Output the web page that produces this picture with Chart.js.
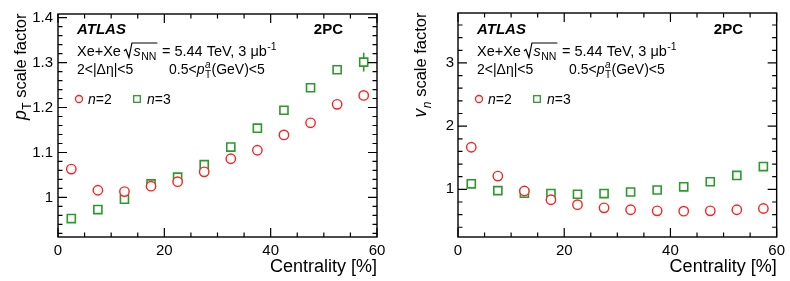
<!DOCTYPE html>
<html>
<head>
<meta charset="utf-8">
<script src="https://cdn.jsdelivr.net/npm/chart.js@4.4.0/dist/chart.umd.min.js"></script>
<style>
body { margin: 0; background: #fff; }
#wrap { position: relative; width: 790px; height: 281px; }
canvas { position: absolute; top: 0; }
</style>
</head>
<body>
<div id="wrap">
  <canvas id="ptChart" width="395" height="281" style="left:0"></canvas>
  <canvas id="vnChart" width="395" height="281" style="left:395px"></canvas>
</div>
<script>
// centrality bin centres [%]
var centrality = [2.5, 7.5, 12.5, 17.5, 22.5, 27.5, 32.5, 37.5, 42.5, 47.5, 52.5, 57.5];

// pT scale factor
var ptN2 = [1.063, 1.016, 1.013, 1.025, 1.035, 1.057, 1.086, 1.105, 1.139, 1.166, 1.207, 1.227];
var ptN3 = [0.953, 0.973, 0.996, 1.030, 1.045, 1.073, 1.112, 1.154, 1.194, 1.244, 1.284, 1.301];
var ptN3Err = [0, 0, 0, 0, 0, 0, 0, 0.002, 0.003, 0.005, 0.009, 0.021];

// vn scale factor
var vnN2 = [1.666, 1.21, 0.974, 0.835, 0.758, 0.707, 0.677, 0.66, 0.655, 0.66, 0.677, 0.697];
var vnN3 = [1.087, 0.98, 0.938, 0.933, 0.923, 0.933, 0.958, 0.99, 1.04, 1.12, 1.22, 1.36];

var xTicks = [0, 20, 40, 60];
var ptTicks = [1, 1.1, 1.2, 1.3, 1.4];
var vnTicks = [1, 2, 3];

var FONT = "'Liberation Sans', Arial, Helvetica, sans-serif";
var RED = '#ff1f1f';
var GREEN = '#2a9a2a';

function f(size, style) {
  return (style ? style + ' ' : '') + size + 'px ' + FONT;
}

function txt(ctx, s, x, y, font) {
  ctx.font = font;
  ctx.fillText(s, x, y);
  return x + ctx.measureText(s).width;
}

function tickRow(ctx, scale, area, step, majorEvery, horizontal) {
  var k0 = Math.ceil(scale.min / step - 1e-6);
  var k1 = Math.floor(scale.max / step + 1e-6);
  for (var k = k0; k <= k1; k++) {
    var v = k * step;
    var major = Math.abs(k % majorEvery) === 0;
    var len = major ? 9 : 4.5;
    var p = scale.getPixelForValue(v);
    ctx.beginPath();
    if (horizontal) {
      ctx.moveTo(p, area.bottom); ctx.lineTo(p, area.bottom - len);
      ctx.moveTo(p, area.top); ctx.lineTo(p, area.top + len);
    } else {
      ctx.moveTo(area.left, p); ctx.lineTo(area.left + len, p);
      ctx.moveTo(area.right, p); ctx.lineTo(area.right - len, p);
    }
    ctx.stroke();
  }
}

var framePlugin = {
  id: 'frame',
  beforeDatasetsDraw: function(chart) {
    var ctx = chart.ctx;
    var ys = chart.scales.y, xs = chart.scales.x;
    ctx.save();
    chart.data.datasets.forEach(function(ds) {
      if (!ds.errors) return;
      ctx.strokeStyle = ds.borderColor;
      ctx.lineWidth = 1.6;
      ds.data.forEach(function(pt, i) {
        var e = ds.errors[i];
        if (!e) return;
        var px = xs.getPixelForValue(pt.x);
        ctx.beginPath();
        ctx.moveTo(px, ys.getPixelForValue(pt.y - e));
        ctx.lineTo(px, ys.getPixelForValue(pt.y + e));
        ctx.stroke();
      });
    });
    ctx.restore();
  },
  afterDraw: function(chart, args, o) {
    var ctx = chart.ctx;
    var a = chart.chartArea;
    var L = a.left, R = a.right;
    ctx.save();
    // frame and inward ticks
    ctx.strokeStyle = '#000';
    ctx.lineWidth = 1.4;
    ctx.strokeRect(a.left, a.top, a.right - a.left, a.bottom - a.top);
    ctx.lineWidth = 1.2;
    tickRow(ctx, chart.scales.x, a, 5, 4, true);
    tickRow(ctx, chart.scales.y, a, o.yMinor, o.yMajorEvery, false);

    ctx.fillStyle = '#000';
    ctx.textBaseline = 'alphabetic';
    ctx.textAlign = 'left';

    // x axis title
    ctx.font = f(18);
    var w = ctx.measureText('Centrality [%]').width;
    txt(ctx, 'Centrality [%]', R - w, 272, f(18));

    // y axis title (rotated)
    ctx.save();
    ctx.translate(o.yTitleX, a.top - 2);
    ctx.rotate(-Math.PI / 2);
    var fs = 16.5;
    ctx.font = f(fs + 1, 'italic');
    var w1 = ctx.measureText(o.yTitleMain).width;
    ctx.font = f(12);
    var w2 = ctx.measureText(o.yTitleSub).width;
    ctx.font = f(fs);
    var w3 = ctx.measureText(' scale factor').width;
    var x0 = -(w1 + w2 + w3) - 2;
    var x1 = txt(ctx, o.yTitleMain, x0, 0, f(fs + 1, 'italic'));
    var x2 = txt(ctx, o.yTitleSub, x1 + 0.5, 5, o.yTitleSubItalic ? f(12, 'italic') : f(12));
    txt(ctx, ' scale factor', x2, 0, f(fs));
    ctx.restore();

    // ATLAS label
    txt(ctx, 'ATLAS', L + 19, 34, f(15, 'italic bold'));
    ctx.font = f(15, 'bold');
    txt(ctx, '2PC', o.pcRight - ctx.measureText('2PC').width, 34, f(15, 'bold'));

    // collision system line
    var y2 = 56;
    var x = txt(ctx, 'Xe+Xe', L + 19, y2, f(14.5));
    var rx = x + 3;
    ctx.font = f(14.5, 'italic');
    var sw = ctx.measureText('s').width;
    ctx.font = f(10.5);
    var nw = ctx.measureText('NN').width;
    var endBar = rx + 9 + sw + nw + 2;
    ctx.lineWidth = 1.2;
    ctx.beginPath();
    ctx.moveTo(rx, y2 - 5);
    ctx.lineTo(rx + 2, y2 - 6.5);
    ctx.lineTo(rx + 5, y2 + 1.5);
    ctx.lineTo(rx + 8, y2 - 13);
    ctx.lineTo(endBar, y2 - 13);
    ctx.stroke();
    x = txt(ctx, 's', rx + 9.5, y2, f(14.5, 'italic'));
    x = txt(ctx, 'NN', x + 0.5, y2 + 3.5, f(10.5));
    x = txt(ctx, ' = 5.44 TeV, 3 \u03bcb', x + 1.5, y2, f(14.5));
    txt(ctx, '-1', x + 0.5, y2 - 6.5, f(10.5));

    // cuts line
    var y3 = 74;
    txt(ctx, '2<|\u0394\u03b7|<5', L + 19, y3, f(14));
    x = txt(ctx, '0.5<', L + 111, y3, f(14));
    x = txt(ctx, 'p', x, y3, f(14, 'italic'));
    txt(ctx, 'a', x + 0.5, y3 - 6, f(10, 'italic'));
    var xe = txt(ctx, 'T', x + 0.5, y3 + 4, f(10));
    txt(ctx, '(GeV)<5', xe + 0.5, y3, f(14));

    // legend
    ctx.lineWidth = 1.3;
    ctx.strokeStyle = RED;
    ctx.beginPath();
    ctx.arc(L + 21, 99, 3.5, 0, Math.PI * 2);
    ctx.stroke();
    x = txt(ctx, 'n', L + 30, 104, f(14, 'italic'));
    txt(ctx, '=2', x, 104, f(14));
    ctx.strokeStyle = GREEN;
    ctx.strokeRect(L + 79 - 3.3, 99 - 3.3, 6.6, 6.6);
    x = txt(ctx, 'n', L + 89, 104, f(14, 'italic'));
    txt(ctx, '=3', x, 104, f(14));
    ctx.restore();
  }
};

function makeChart(id, n2, n3, n3Err, yMin, yMax, yTicks, extra) {
  var pts = function(vals) {
    return centrality.map(function(c, i) { return { x: c, y: vals[i] }; });
  };
  return new Chart(document.getElementById(id), {
    type: 'scatter',
    data: {
      datasets: [{
        data: pts(n2),
        pointStyle: 'circle',
        pointRadius: 4.7,
        borderColor: RED,
        backgroundColor: '#fff',
        borderWidth: 1.4
      }, {
        data: pts(n3),
        errors: n3Err,
        pointStyle: 'rect',
        pointRadius: 5.7,
        borderColor: GREEN,
        backgroundColor: '#fff',
        borderWidth: 1.6
      }]
    },
    options: {
      responsive: false,
      animation: false,
      events: [],
      layout: { padding: { left: 0, right: extra.padRight, top: 7, bottom: 0 } },
      scales: {
        x: {
          type: 'linear',
          min: 0, max: 60,
          afterBuildTicks: function(s) { s.ticks = xTicks.map(function(v) { return { value: v }; }); },
          afterFit: function(s) { s.height = 44; },
          grid: { display: false, drawTicks: false },
          border: { display: false },
          ticks: { color: '#000', font: { family: FONT, size: 15 }, padding: 5, maxRotation: 0, autoSkip: false }
        },
        y: {
          type: 'linear',
          min: yMin, max: yMax,
          afterBuildTicks: function(s) { s.ticks = yTicks.map(function(v) { return { value: v }; }); },
          afterFit: function(s) { s.width = extra.axisWidth; },
          grid: { display: false, drawTicks: false },
          border: { display: false },
          ticks: {
            color: '#000', font: { family: FONT, size: 15 }, padding: extra.tickPad, autoSkip: false,
            callback: function(v) { return String(+v.toFixed(2)); }
          }
        }
      },
      plugins: {
        legend: { display: false },
        tooltip: { enabled: false },
        frame: extra.frame
      }
    },
    plugins: [framePlugin]
  });
}

makeChart('ptChart', ptN2, ptN3, ptN3Err, 0.912, 1.408, ptTicks, {
  padRight: 18, axisWidth: 58, tickPad: 5,
  frame: { yMinor: 0.02, yMajorEvery: 5, yTitleX: 26, yTitleMain: 'p', yTitleSub: 'T', yTitleSubItalic: false, pcRight: 343 }
});

makeChart('vnChart', vnN2, vnN3, null, 0.246, 3.79, vnTicks, {
  padRight: 12, axisWidth: 63, tickPad: 4,
  frame: { yMinor: 0.2, yMajorEvery: 5, yTitleX: 31, yTitleMain: 'v', yTitleSub: 'n', yTitleSubItalic: true, pcRight: 348 }
});
</script>
</body>
</html>
